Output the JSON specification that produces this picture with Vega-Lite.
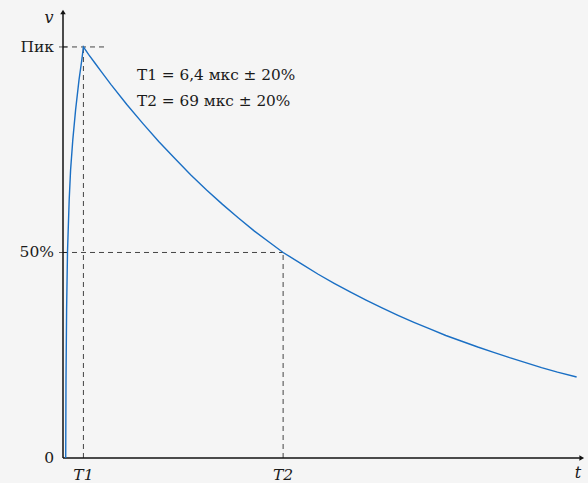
{
  "$schema": "https://vega.github.io/schema/vega-lite/v6.json",
  "width": 520,
  "height": 446,
  "autosize": {"type": "none"},
  "padding": {"left": 63, "top": 12, "right": 5, "bottom": 25},
  "background": "#f5f5f5",
  "config": {"view": {"stroke": null}, "font": "DejaVu Serif"},
  "datasets": {
    "curve": [
      {"t": 0.85, "v": 0}, {"t": 0.94, "v": 0.19}, {"t": 1.13, "v": 0.36}, {"t": 1.41, "v": 0.501},
      {"t": 1.94, "v": 0.628}, {"t": 2.38, "v": 0.701}, {"t": 3.07, "v": 0.774}, {"t": 3.95, "v": 0.847},
      {"t": 5.02, "v": 0.92}, {"t": 5.89, "v": 0.968}, {"t": 6.4, "v": 1.0},
      {"t": 8, "v": 0.982}, {"t": 10, "v": 0.961}, {"t": 12, "v": 0.94}, {"t": 15, "v": 0.909},
      {"t": 20, "v": 0.86}, {"t": 25, "v": 0.814}, {"t": 30, "v": 0.77}, {"t": 35, "v": 0.729},
      {"t": 40, "v": 0.689}, {"t": 45, "v": 0.652}, {"t": 50, "v": 0.617}, {"t": 55, "v": 0.584},
      {"t": 60, "v": 0.552}, {"t": 65, "v": 0.523}, {"t": 69, "v": 0.5},
      {"t": 75, "v": 0.471}, {"t": 80, "v": 0.447}, {"t": 85, "v": 0.425}, {"t": 90, "v": 0.404},
      {"t": 95, "v": 0.384}, {"t": 100, "v": 0.365}, {"t": 105, "v": 0.347}, {"t": 110, "v": 0.33},
      {"t": 115, "v": 0.314}, {"t": 120, "v": 0.298}, {"t": 125, "v": 0.284}, {"t": 130, "v": 0.27},
      {"t": 135, "v": 0.257}, {"t": 140, "v": 0.244}, {"t": 145, "v": 0.232}, {"t": 150, "v": 0.22},
      {"t": 155, "v": 0.209}, {"t": 161, "v": 0.197}
    ],
    "axes": [
      {"x": 0, "y": 0, "x2": 162, "y2": 0},
      {"x": 0, "y": 0, "x2": 0, "y2": 1.08}
    ],
    "dashes": [
      {"x": 0, "y": 1, "x2": 13.3, "y2": 1},
      {"x": 6.4, "y": 0, "x2": 6.4, "y2": 1},
      {"x": 0, "y": 0.5, "x2": 69, "y2": 0.5},
      {"x": 69, "y": 0, "x2": 69, "y2": 0.5}
    ],
    "ticks": [
      {"x": 0, "y": 1}, {"x": 0, "y": 0.5}
    ],
    "arrows": [
      {"x": 162.6, "y": 0, "shape": "triangle-right"},
      {"x": 0, "y": 1.085, "shape": "triangle-up"}
    ],
    "ylabels": [
      {"x": 0, "y": 1, "label": "Пик"},
      {"x": 0, "y": 0.5, "label": "50%"},
      {"x": 0, "y": 0, "label": "0"}
    ],
    "xlabels": [
      {"x": 6.4, "y": 0, "label": "T1"},
      {"x": 69, "y": 0, "label": "T2"}
    ],
    "note": [
      {"x": 23.2, "y": 0.932, "label": "T1 = 6,4 мкс ± 20%"},
      {"x": 23.2, "y": 0.869, "label": "T2 = 69 мкс ± 20%"}
    ]
  },
  "layer": [
    {
      "data": {"name": "dashes"},
      "mark": {"type": "rule", "color": "#444444", "strokeDash": [5, 4], "strokeWidth": 1},
      "encoding": {
        "x": {"field": "x", "type": "quantitative", "scale": {"domain": [0, 163], "nice": false, "zero": false}, "axis": null},
        "y": {"field": "y", "type": "quantitative", "scale": {"domain": [0, 1.085], "nice": false, "zero": false}, "axis": null},
        "x2": {"field": "x2"},
        "y2": {"field": "y2"}
      }
    },
    {
      "data": {"name": "ticks"},
      "mark": {"type": "tick", "orient": "horizontal", "color": "#111111", "size": 8, "thickness": 1},
      "encoding": {
        "x": {"field": "x", "type": "quantitative"},
        "y": {"field": "y", "type": "quantitative"}
      }
    },
    {
      "data": {"name": "axes"},
      "mark": {"type": "rule", "color": "#111111", "strokeWidth": 1.5},
      "encoding": {
        "x": {"field": "x", "type": "quantitative"},
        "y": {"field": "y", "type": "quantitative"},
        "x2": {"field": "x2"},
        "y2": {"field": "y2"}
      }
    },
    {
      "data": {"name": "arrows"},
      "mark": {"type": "point", "filled": true, "color": "#111111", "size": 30, "opacity": 1},
      "encoding": {
        "x": {"field": "x", "type": "quantitative"},
        "y": {"field": "y", "type": "quantitative"},
        "shape": {"field": "shape", "type": "nominal", "scale": null}
      }
    },
    {
      "data": {"name": "curve"},
      "mark": {"type": "line", "color": "#1a6fc4", "strokeWidth": 1.4},
      "encoding": {
        "x": {"field": "t", "type": "quantitative"},
        "y": {"field": "v", "type": "quantitative"}
      }
    },
    {
      "data": {"name": "ylabels"},
      "mark": {"type": "text", "align": "right", "baseline": "middle", "dx": -9, "fontSize": 15.5, "color": "#1a1a1a"},
      "encoding": {
        "x": {"field": "x", "type": "quantitative"},
        "y": {"field": "y", "type": "quantitative"},
        "text": {"field": "label"}
      }
    },
    {
      "data": {"name": "xlabels"},
      "mark": {"type": "text", "align": "center", "baseline": "middle", "dy": 17, "fontSize": 15.5, "fontStyle": "italic", "color": "#1a1a1a"},
      "encoding": {
        "x": {"field": "x", "type": "quantitative"},
        "y": {"field": "y", "type": "quantitative"},
        "text": {"field": "label"}
      }
    },
    {
      "data": {"values": [{"x": 161.4, "y": 0, "label": "t"}]},
      "mark": {"type": "text", "align": "center", "baseline": "middle", "dy": 15, "fontSize": 16, "fontStyle": "italic", "color": "#1a1a1a"},
      "encoding": {
        "x": {"field": "x", "type": "quantitative"},
        "y": {"field": "y", "type": "quantitative"},
        "text": {"field": "label"}
      }
    },
    {
      "data": {"values": [{"x": 0, "y": 1.07, "label": "v"}]},
      "mark": {"type": "text", "align": "center", "baseline": "middle", "dx": -14, "fontSize": 16, "fontStyle": "italic", "color": "#1a1a1a"},
      "encoding": {
        "x": {"field": "x", "type": "quantitative"},
        "y": {"field": "y", "type": "quantitative"},
        "text": {"field": "label"}
      }
    },
    {
      "data": {"name": "note"},
      "mark": {"type": "text", "align": "left", "baseline": "middle", "fontSize": 15.3, "color": "#1a1a1a"},
      "encoding": {
        "x": {"field": "x", "type": "quantitative"},
        "y": {"field": "y", "type": "quantitative"},
        "text": {"field": "label"}
      }
    }
  ]
}
